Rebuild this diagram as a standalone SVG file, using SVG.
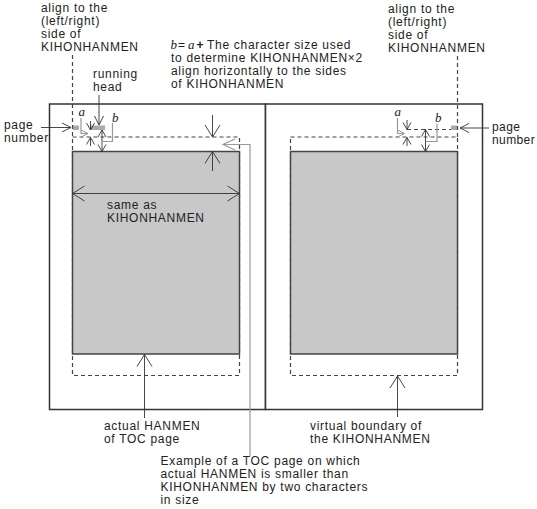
<svg xmlns="http://www.w3.org/2000/svg" width="537" height="509" viewBox="0 0 537 509">
<style>
text{font-family:"Liberation Sans",Arial,sans-serif;font-size:12px;fill:#222;letter-spacing:0.7px}
.it{font-family:"Liberation Serif","Times New Roman",serif;font-size:13px;font-style:italic;letter-spacing:0}
.page{fill:#fff;stroke:#333;stroke-width:1.5}
.hanmen{fill:#c8c8c8;stroke:#444;stroke-width:1.5}
.virt{fill:none;stroke:#444;stroke-width:1.2;stroke-dasharray:4 3}
.bar{fill:#aaa}
.ln{fill:none;stroke:#333;stroke-width:0.9}
.gl{fill:none;stroke:#999;stroke-width:1.2}
</style>
<defs>
<marker id="ab" markerUnits="userSpaceOnUse" markerWidth="14" markerHeight="17" viewBox="0 0 14 17" refX="12" refY="8" orient="auto-start-reverse" overflow="visible"><path d="M0,0.5 L12,8 L0,15.5" fill="none" stroke="#333" stroke-width="0.9"/></marker>
<marker id="am" markerUnits="userSpaceOnUse" markerWidth="10" markerHeight="10" viewBox="0 0 10 10" refX="9" refY="4.5" orient="auto-start-reverse" overflow="visible"><path d="M0,0 L9,4.5 L0,9" fill="none" stroke="#333" stroke-width="0.9"/></marker>
<marker id="as" markerUnits="userSpaceOnUse" markerWidth="8" markerHeight="9" viewBox="0 0 8 9" refX="7" refY="4" orient="auto-start-reverse" overflow="visible"><path d="M0,0 L7,4 L0,8" fill="none" stroke="#333" stroke-width="0.9"/></marker>
<marker id="agb" markerUnits="userSpaceOnUse" markerWidth="14" markerHeight="13" viewBox="0 0 14 13" refX="12" refY="6" orient="auto" overflow="visible"><path d="M0,0.5 L12,6 L0,11.5" fill="none" stroke="#999" stroke-width="1.2"/></marker>
<marker id="ags" markerUnits="userSpaceOnUse" markerWidth="8" markerHeight="9" viewBox="0 0 8 9" refX="7" refY="4" orient="auto" overflow="visible"><path d="M0,0.5 L7,4 L0,7.5" fill="none" stroke="#999" stroke-width="1"/></marker>
</defs>
<rect x="0" y="0" width="537" height="509" fill="#fff"/>

<g id="page-left">
<rect class="page" x="49.5" y="104" width="216" height="305.5"/>
<rect class="virt" x="72.5" y="137" width="167" height="238.5"/>
<rect class="hanmen" x="72.5" y="151.5" width="167" height="202.5"/>
<rect class="bar" x="73" y="125.5" width="6" height="4.5"/>
<rect class="bar" x="90" y="125.5" width="15" height="4.5"/>
</g>

<g id="page-right">
<rect class="page" x="265.5" y="104" width="217" height="305.5"/>
<rect class="virt" x="290.5" y="137" width="167" height="238.5"/>
<rect class="hanmen" x="290.5" y="151.5" width="167" height="202.5"/>
<rect class="bar" x="451" y="125.5" width="6" height="4.5"/>
<line class="virt" x1="407" y1="129.5" x2="451" y2="129.5"/>
</g>

<g id="connectors">
<line class="virt" x1="72.5" y1="55" x2="72.5" y2="137"/>
<line class="virt" x1="457.5" y1="56" x2="457.5" y2="137"/>
<line class="ln" x1="99" y1="95" x2="99" y2="125" marker-end="url(#am)"/>
<line class="ln" x1="41" y1="127.5" x2="71" y2="127.5" marker-end="url(#am)"/>
<line class="ln" x1="489" y1="128" x2="460" y2="128" marker-end="url(#am)"/>
<line class="ln" x1="90.5" y1="121" x2="90.5" y2="130" marker-end="url(#as)"/>
<line class="ln" x1="90.5" y1="146" x2="90.5" y2="137.5" marker-end="url(#as)"/>
<polyline class="gl" points="81,118 81,133.5 88,133.5" marker-end="url(#ags)"/>
<line class="ln" x1="102" y1="130" x2="102" y2="151.5" marker-start="url(#as)" marker-end="url(#as)"/>
<polyline class="gl" points="112.5,123 112.5,141.5 102,141.5"/>
<line class="ln" x1="407" y1="120" x2="407" y2="129.5" marker-end="url(#as)"/>
<line class="ln" x1="407" y1="146" x2="407" y2="137.5" marker-end="url(#as)"/>
<polyline class="gl" points="397.5,118 397.5,133.5 404.5,133.5" marker-end="url(#ags)"/>
<line class="ln" x1="425.5" y1="129.5" x2="425.5" y2="151.5" marker-start="url(#as)" marker-end="url(#as)"/>
<polyline class="gl" points="437,123.5 437,141.5 425.5,141.5"/>
<line class="ln" x1="212.5" y1="115" x2="212.5" y2="137" marker-end="url(#ab)"/>
<line class="ln" x1="212.5" y1="171" x2="212.5" y2="151.5" marker-end="url(#ab)"/>
<line class="ln" x1="72.5" y1="193.5" x2="239.5" y2="193.5" marker-start="url(#ab)" marker-end="url(#ab)"/>
<line class="ln" x1="144.5" y1="418" x2="144.5" y2="354.5" marker-end="url(#ab)"/>
<line class="ln" x1="397.5" y1="417" x2="397.5" y2="376" marker-end="url(#ab)"/>
<polyline class="gl" points="250,456 250,144.5 223,144.5" marker-end="url(#agb)"/>
</g>

<g id="labels">
<text><tspan x="41" y="11.5">align to the</tspan><tspan x="41" y="24.5">(left/right)</tspan><tspan x="41" y="37.5">side of</tspan><tspan x="41" y="50.5">KIHONHANMEN</tspan></text>
<text><tspan x="388" y="13">align to the</tspan><tspan x="388" y="26">(left/right)</tspan><tspan x="388" y="39">side of</tspan><tspan x="388" y="52">KIHONHANMEN</tspan></text>
<text y="49"><tspan x="170.5" class="it">b</tspan><tspan x="178">=</tspan><tspan x="188" class="it">a</tspan><tspan x="196.5" font-weight="bold">+</tspan><tspan x="207">The character size used</tspan></text>
<text><tspan x="171" y="62">to determine KIHONHANMEN×2</tspan><tspan x="171" y="75">align horizontally to the sides</tspan><tspan x="171" y="88">of KIHONHANMEN</tspan></text>
<text><tspan x="93" y="78">running</tspan><tspan x="93" y="91">head</tspan></text>
<text><tspan x="4" y="129">page</tspan><tspan x="4" y="142">number</tspan></text>
<text style="letter-spacing:0.4px"><tspan x="492" y="130.5">page</tspan><tspan x="492" y="143.5">number</tspan></text>
<text class="it" x="78.5" y="116">a</text>
<text class="it" x="112" y="121.5">b</text>
<text class="it" x="394.5" y="115.5">a</text>
<text class="it" x="435" y="122">b</text>
<text><tspan x="107" y="209">same as</tspan><tspan x="107" y="222">KIHONHANMEN</tspan></text>
<text><tspan x="104" y="429.5">actual HANMEN</tspan><tspan x="104" y="442.5">of TOC page</tspan></text>
<text><tspan x="310" y="429.5">virtual boundary of</tspan><tspan x="310" y="442.5">the KIHONHANMEN</tspan></text>
<text><tspan x="160.5" y="465">Example of a TOC page on which</tspan><tspan x="160.5" y="478">actual HANMEN is smaller than</tspan><tspan x="160.5" y="491">KIHONHANMEN by two characters</tspan><tspan x="160.5" y="504">in size</tspan></text>
</g>
</svg>
